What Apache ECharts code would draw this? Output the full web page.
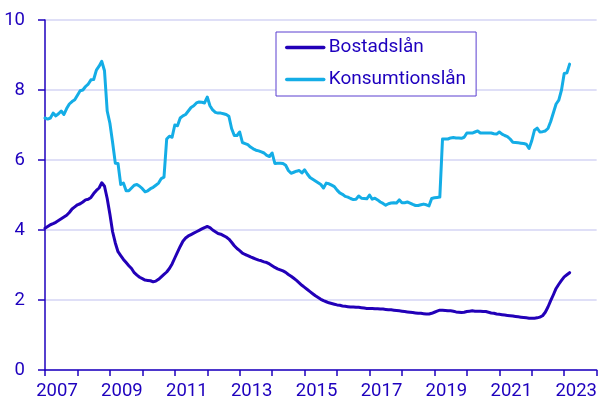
<!DOCTYPE html>
<html>
<head>
<meta charset="utf-8">
<script src="https://cdn.jsdelivr.net/npm/echarts@6/dist/echarts.min.js"></script>
<style>
  html, body { margin: 0; padding: 0; background: #fff; }
  #main { width: 600px; height: 406px; }
</style>
</head>
<body>
<div id="main"></div>
<script>
// monthly series, Jan 2007 - Mar 2023
var startYear = 2007;
var seriesNames = ['Bostadslån', 'Konsumtionslån'];
var yTicks = [0, 2, 4, 6, 8, 10];

var bostadslan = [
  4.05, 4.10, 4.15, 4.18, 4.22, 4.27, 4.32, 4.37, 4.42, 4.50, 4.60, 4.66,
  4.72, 4.75, 4.80, 4.86, 4.88, 4.93, 5.04, 5.13, 5.20, 5.35, 5.25, 4.90,
  4.45, 3.95, 3.63, 3.38, 3.27, 3.16, 3.07, 2.98, 2.90, 2.78, 2.71, 2.65,
  2.61, 2.57, 2.56, 2.55, 2.52, 2.54, 2.59, 2.66, 2.73, 2.80, 2.90, 3.03,
  3.20, 3.37, 3.53, 3.68, 3.77, 3.83, 3.87, 3.91, 3.95, 3.99, 4.03, 4.07,
  4.10, 4.07, 4.00, 3.95, 3.90, 3.88, 3.84, 3.80, 3.74, 3.65, 3.55, 3.47,
  3.41, 3.34, 3.30, 3.27, 3.23, 3.20, 3.17, 3.14, 3.12, 3.09, 3.07, 3.03,
  2.98, 2.93, 2.89, 2.86, 2.83, 2.79, 2.73, 2.68, 2.62, 2.56, 2.49, 2.42,
  2.36, 2.30, 2.24, 2.18, 2.12, 2.07, 2.02, 1.98, 1.95, 1.92, 1.90, 1.88,
  1.86, 1.85, 1.83, 1.82, 1.81, 1.80, 1.80, 1.79, 1.79, 1.78, 1.77, 1.76,
  1.76, 1.76, 1.75, 1.75, 1.74, 1.74, 1.73, 1.72, 1.72, 1.71, 1.70, 1.69,
  1.68, 1.67, 1.66, 1.65, 1.64, 1.63, 1.62, 1.62, 1.61, 1.60, 1.60, 1.62,
  1.65, 1.68, 1.71, 1.71, 1.70, 1.69, 1.69, 1.68, 1.66, 1.65, 1.64, 1.65,
  1.67, 1.68, 1.69, 1.68, 1.68, 1.68, 1.67, 1.67, 1.65, 1.63, 1.62, 1.60,
  1.59, 1.58, 1.57, 1.56, 1.55, 1.54, 1.53, 1.52, 1.51, 1.50, 1.49, 1.48,
  1.48, 1.48, 1.49, 1.51, 1.55, 1.65, 1.80, 1.98, 2.15, 2.33, 2.45, 2.56,
  2.66, 2.72, 2.78
];

var konsumtionslan = [
  7.20, 7.17, 7.20, 7.34, 7.26, 7.32, 7.40, 7.30, 7.47, 7.60, 7.67, 7.72,
  7.85, 7.98, 8.00, 8.10, 8.17, 8.29, 8.30, 8.57, 8.68, 8.82, 8.55, 7.40,
  7.05, 6.50, 5.91, 5.90, 5.30, 5.34, 5.12, 5.12, 5.20, 5.28, 5.30, 5.25,
  5.18, 5.09, 5.12, 5.18, 5.22, 5.28, 5.34, 5.47, 5.51, 6.60, 6.68, 6.65,
  7.00, 6.98, 7.20, 7.26, 7.30, 7.40, 7.50, 7.55, 7.63, 7.66, 7.65, 7.63,
  7.80, 7.55, 7.43, 7.36, 7.34, 7.34, 7.32, 7.30, 7.25, 6.90, 6.70, 6.70,
  6.80, 6.50, 6.47, 6.44, 6.37, 6.32, 6.28, 6.26, 6.23, 6.20, 6.13, 6.10,
  6.20, 5.90, 5.91, 5.91, 5.90, 5.85, 5.70, 5.62, 5.65, 5.68, 5.70, 5.63,
  5.72, 5.60, 5.50, 5.45, 5.40, 5.35, 5.30, 5.20, 5.34, 5.32, 5.28, 5.24,
  5.14, 5.06, 5.02, 4.96, 4.94, 4.90, 4.87, 4.88, 4.97, 4.91, 4.90, 4.89,
  5.00, 4.88, 4.91, 4.86, 4.80, 4.76, 4.71, 4.75, 4.77, 4.78, 4.77, 4.86,
  4.78, 4.78, 4.80, 4.77, 4.73, 4.70, 4.70, 4.72, 4.74, 4.72, 4.69, 4.90,
  4.92, 4.93, 4.94, 6.60, 6.60, 6.60, 6.63, 6.64, 6.63, 6.63, 6.62, 6.65,
  6.77, 6.77, 6.77, 6.80, 6.83, 6.77, 6.77, 6.77, 6.77, 6.77, 6.75, 6.74,
  6.80, 6.74, 6.70, 6.67, 6.60, 6.51, 6.50, 6.49, 6.48, 6.47, 6.45, 6.33,
  6.55, 6.85, 6.91, 6.80, 6.81, 6.83, 6.90, 7.10, 7.35, 7.60, 7.71, 8.00,
  8.47, 8.49, 8.74
];

function toPoints(values) {
  var pts = [];
  for (var i = 0; i < values.length; i++) {
    pts.push([startYear + i / 12, values[i]]);
  }
  return pts;
}

var textColor = '#1e00be';
var font = 'Roboto';

var myChart = echarts.init(document.getElementById('main'), null, { renderer: 'canvas' });
var option = {
  animation: false,
  textStyle: { fontFamily: font, color: textColor },
  grid: { left: 45, right: 3, top: 20, bottom: 36, containLabel: false },
  legend: {
    orient: 'vertical',
    left: 276,
    top: 32,
    padding: [6, 10, 7, 9],
    itemGap: 13,
    itemWidth: 37,
    itemHeight: 14,
    itemStyle: { opacity: 0 },
    lineStyle: { width: 3.5 },
    borderColor: '#5a3fd0',
    borderWidth: 1,
    backgroundColor: '#fff',
    textStyle: { fontFamily: font, fontSize: 19, color: textColor },
    data: seriesNames
  },
  xAxis: {
    type: 'value',
    min: 2007,
    max: 2024,
    interval: 1,
    axisLine: { lineStyle: { color: textColor, width: 1.5 } },
    axisTick: { show: true, length: 6, lineStyle: { color: textColor, width: 1.5 } },
    axisLabel: {
      fontFamily: font,
      fontSize: 18.5,
      color: textColor,
      margin: 12,
      padding: [0, 0, 0, 24],
      showMinLabel: true,
      showMaxLabel: true,
      formatter: function (v) { return v % 2 === 1 ? String(v) : ''; }
    },
    splitLine: { show: false }
  },
  yAxis: {
    type: 'value',
    min: yTicks[0],
    max: yTicks[yTicks.length - 1],
    interval: 2,
    axisLine: { show: true, lineStyle: { color: textColor, width: 1.5 } },
    axisTick: { show: true, length: 7, lineStyle: { color: textColor, width: 1.5 } },
    axisLabel: { fontFamily: font, fontSize: 18.5, color: textColor, margin: 20 },
    splitLine: { show: true, lineStyle: { color: '#d4d4f4', width: 1.5 } }
  },
  series: [
    {
      name: seriesNames[0],
      type: 'line',
      data: toPoints(bostadslan),
      showSymbol: false,
      symbol: 'none',
      smooth: false,
      color: '#2200b8',
      lineStyle: { width: 3, color: '#2200b8', join: 'round', cap: 'round' }
    },
    {
      name: seriesNames[1],
      type: 'line',
      data: toPoints(konsumtionslan),
      showSymbol: false,
      symbol: 'none',
      smooth: false,
      color: '#14ade6',
      lineStyle: { width: 3, color: '#14ade6', join: 'round', cap: 'round' }
    }
  ]
};
myChart.setOption(option);
</script>
</body>
</html>
